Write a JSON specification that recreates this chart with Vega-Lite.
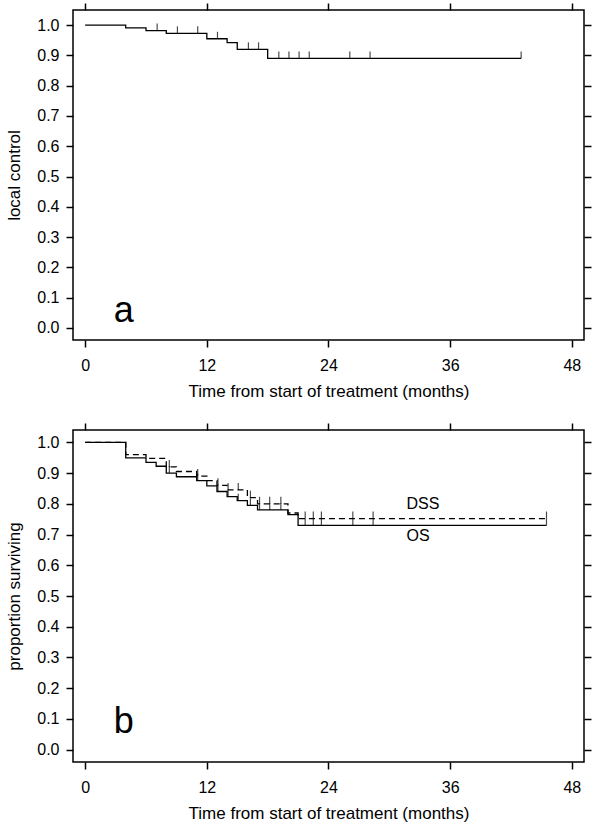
{
  "$schema": "https://vega.github.io/schema/vega-lite/v6.json",
  "background": "white",
  "padding": {"left": 5, "top": 1, "right": 5, "bottom": 5},
  "spacing": 21,
  "config": {
    "view": {"stroke": "black", "strokeWidth": 1.5},
    "axis": {"domain": false, "grid": false, "tickColor": "black", "tickWidth": 1.5, "tickSize": 7, "labelColor": "black", "titleColor": "black", "labelFont": "Liberation Sans", "titleFont": "Liberation Sans", "labelFontSize": 16, "titleFontSize": 17, "titleFontWeight": "normal"}
  },
  "datasets": {
    "lc": [
      {"t": 0, "s": 1.0}, {"t": 4, "s": 0.991}, {"t": 6, "s": 0.982}, {"t": 8, "s": 0.973},
      {"t": 12, "s": 0.955}, {"t": 14, "s": 0.942}, {"t": 15, "s": 0.92}, {"t": 18, "s": 0.89}, {"t": 43, "s": 0.89}
    ],
    "lc_cens": [
      {"t": 7.1, "s": 0.982}, {"t": 9.1, "s": 0.973}, {"t": 11.1, "s": 0.973}, {"t": 13.05, "s": 0.955},
      {"t": 16.1, "s": 0.92}, {"t": 17.1, "s": 0.92}, {"t": 19.1, "s": 0.89}, {"t": 20.1, "s": 0.89},
      {"t": 21.1, "s": 0.89}, {"t": 22.1, "s": 0.89}, {"t": 26.1, "s": 0.89}, {"t": 28.1, "s": 0.89}, {"t": 43, "s": 0.89}
    ],
    "surv": [
      {"curve": "OS", "t": 0, "s": 1.0}, {"curve": "OS", "t": 4, "s": 0.949}, {"curve": "OS", "t": 6, "s": 0.935},
      {"curve": "OS", "t": 7, "s": 0.922}, {"curve": "OS", "t": 8, "s": 0.9}, {"curve": "OS", "t": 9, "s": 0.888},
      {"curve": "OS", "t": 11, "s": 0.875}, {"curve": "OS", "t": 12, "s": 0.858}, {"curve": "OS", "t": 13, "s": 0.84},
      {"curve": "OS", "t": 14, "s": 0.823}, {"curve": "OS", "t": 15, "s": 0.81}, {"curve": "OS", "t": 16, "s": 0.795},
      {"curve": "OS", "t": 17, "s": 0.78}, {"curve": "OS", "t": 20, "s": 0.765}, {"curve": "OS", "t": 21, "s": 0.73},
      {"curve": "OS", "t": 45.5, "s": 0.73},
      {"curve": "DSS", "t": 0, "s": 1.0}, {"curve": "DSS", "t": 4, "s": 0.96}, {"curve": "DSS", "t": 6, "s": 0.948},
      {"curve": "DSS", "t": 8, "s": 0.92}, {"curve": "DSS", "t": 9, "s": 0.905}, {"curve": "DSS", "t": 11, "s": 0.89},
      {"curve": "DSS", "t": 12, "s": 0.875}, {"curve": "DSS", "t": 13, "s": 0.86}, {"curve": "DSS", "t": 14, "s": 0.845},
      {"curve": "DSS", "t": 16, "s": 0.82}, {"curve": "DSS", "t": 17, "s": 0.8}, {"curve": "DSS", "t": 20, "s": 0.77},
      {"curve": "DSS", "t": 21, "s": 0.752}, {"curve": "DSS", "t": 45.5, "s": 0.752}
    ],
    "surv_cens": [
      {"curve": "OS", "t": 8.3, "s": 0.9}, {"curve": "OS", "t": 11.1, "s": 0.875}, {"curve": "OS", "t": 13.1, "s": 0.84},
      {"curve": "OS", "t": 14.1, "s": 0.823}, {"curve": "OS", "t": 15.1, "s": 0.81}, {"curve": "OS", "t": 16.3, "s": 0.795},
      {"curve": "OS", "t": 17.2, "s": 0.78}, {"curve": "OS", "t": 18.2, "s": 0.78}, {"curve": "OS", "t": 19.3, "s": 0.78},
      {"curve": "OS", "t": 21.7, "s": 0.73}, {"curve": "OS", "t": 22.5, "s": 0.73}, {"curve": "OS", "t": 23.3, "s": 0.73},
      {"curve": "OS", "t": 26.4, "s": 0.73}, {"curve": "OS", "t": 28.4, "s": 0.73}, {"curve": "OS", "t": 45.5, "s": 0.73},
      {"curve": "DSS", "t": 8.3, "s": 0.92}, {"curve": "DSS", "t": 11.1, "s": 0.89}, {"curve": "DSS", "t": 13.1, "s": 0.86},
      {"curve": "DSS", "t": 14.1, "s": 0.845}, {"curve": "DSS", "t": 15.1, "s": 0.845}, {"curve": "DSS", "t": 16.3, "s": 0.82},
      {"curve": "DSS", "t": 17.2, "s": 0.8}, {"curve": "DSS", "t": 18.2, "s": 0.8}, {"curve": "DSS", "t": 19.3, "s": 0.8},
      {"curve": "DSS", "t": 21.7, "s": 0.752}, {"curve": "DSS", "t": 22.5, "s": 0.752}, {"curve": "DSS", "t": 23.3, "s": 0.752},
      {"curve": "DSS", "t": 26.4, "s": 0.752}, {"curve": "DSS", "t": 28.4, "s": 0.752}, {"curve": "DSS", "t": 45.5, "s": 0.752}
    ],
    "curve_labels": [
      {"label": "DSS", "t": 31.7, "s": 0.783},
      {"label": "OS", "t": 31.7, "s": 0.68}
    ]
  },
  "vconcat": [
    {
      "width": 511,
      "height": 330,
      "layer": [
        {
          "data": {"name": "lc"},
          "mark": {"type": "line", "interpolate": "step-after", "color": "black", "strokeWidth": 1.3},
          "encoding": {
            "x": {"field": "t", "type": "quantitative", "scale": {"domain": [-1.2, 49.2], "nice": false, "zero": false},
                  "axis": {"orient": "bottom", "values": [0, 12, 24, 36, 48], "title": "Time from start of treatment (months)", "labelPadding": 10, "titlePadding": 10}},
            "y": {"field": "s", "type": "quantitative", "scale": {"domain": [-0.04, 1.05], "nice": false, "zero": false},
                  "axis": {"orient": "left", "values": [0, 0.1, 0.2, 0.3, 0.4, 0.5, 0.6, 0.7, 0.8, 0.9, 1.0], "format": ".1f", "title": "local control", "labelPadding": 7, "titlePadding": 13}}
          }
        },
        {
          "data": {"name": "lc_cens"},
          "mark": {"type": "tick", "orient": "vertical", "color": "black", "size": 7, "thickness": 1.2, "yOffset": -3.5},
          "encoding": {
            "x": {"field": "t", "type": "quantitative", "axis": {"orient": "top", "values": [0, 12, 24, 36, 48], "labels": false, "title": null}},
            "y": {"field": "s", "type": "quantitative", "axis": {"orient": "right", "values": [0, 0.1, 0.2, 0.3, 0.4, 0.5, 0.6, 0.7, 0.8, 0.9, 1.0], "labels": false, "title": null}}
          }
        },
        {
          "data": {"values": [{"label": "a", "t": 3.8, "s": 0.02}]},
          "mark": {"type": "text", "font": "Liberation Sans", "fontSize": 36, "align": "center", "baseline": "alphabetic", "color": "black"},
          "encoding": {
            "x": {"field": "t", "type": "quantitative", "axis": null},
            "y": {"field": "s", "type": "quantitative", "axis": null},
            "text": {"field": "label"}
          }
        }
      ],
      "resolve": {"axis": {"x": "independent", "y": "independent"}}
    },
    {
      "width": 511,
      "height": 332,
      "layer": [
        {
          "data": {"name": "surv"},
          "mark": {"type": "line", "interpolate": "step-after", "color": "black", "strokeWidth": 1.3},
          "encoding": {
            "x": {"field": "t", "type": "quantitative", "scale": {"domain": [-1.2, 49.2], "nice": false, "zero": false},
                  "axis": {"orient": "bottom", "values": [0, 12, 24, 36, 48], "title": "Time from start of treatment (months)", "labelPadding": 10, "titlePadding": 10}},
            "y": {"field": "s", "type": "quantitative", "scale": {"domain": [-0.04, 1.04], "nice": false, "zero": false},
                  "axis": {"orient": "left", "values": [0, 0.1, 0.2, 0.3, 0.4, 0.5, 0.6, 0.7, 0.8, 0.9, 1.0], "format": ".1f", "title": "proportion surviving", "labelPadding": 7, "titlePadding": 13}},
            "strokeDash": {"field": "curve", "type": "nominal", "scale": {"domain": ["DSS", "OS"], "range": [[6, 4], [1, 0]]}, "legend": null},
            "detail": {"field": "curve"}
          }
        },
        {
          "data": {"name": "surv_cens"},
          "mark": {"type": "tick", "orient": "vertical", "color": "black", "size": 7, "thickness": 1.2, "yOffset": -3.5},
          "encoding": {
            "x": {"field": "t", "type": "quantitative", "axis": {"orient": "top", "values": [0, 12, 24, 36, 48], "labels": false, "title": null}},
            "y": {"field": "s", "type": "quantitative", "axis": {"orient": "right", "values": [0, 0.1, 0.2, 0.3, 0.4, 0.5, 0.6, 0.7, 0.8, 0.9, 1.0], "labels": false, "title": null}}
          }
        },
        {
          "data": {"name": "curve_labels"},
          "mark": {"type": "text", "font": "Liberation Sans", "fontSize": 16, "align": "left", "baseline": "alphabetic", "color": "black"},
          "encoding": {
            "x": {"field": "t", "type": "quantitative", "axis": null},
            "y": {"field": "s", "type": "quantitative", "axis": null},
            "text": {"field": "label"}
          }
        },
        {
          "data": {"values": [{"label": "b", "t": 3.8, "s": 0.055}]},
          "mark": {"type": "text", "font": "Liberation Sans", "fontSize": 36, "align": "center", "baseline": "alphabetic", "color": "black"},
          "encoding": {
            "x": {"field": "t", "type": "quantitative", "axis": null},
            "y": {"field": "s", "type": "quantitative", "axis": null},
            "text": {"field": "label"}
          }
        }
      ],
      "resolve": {"axis": {"x": "independent", "y": "independent"}}
    }
  ]
}
